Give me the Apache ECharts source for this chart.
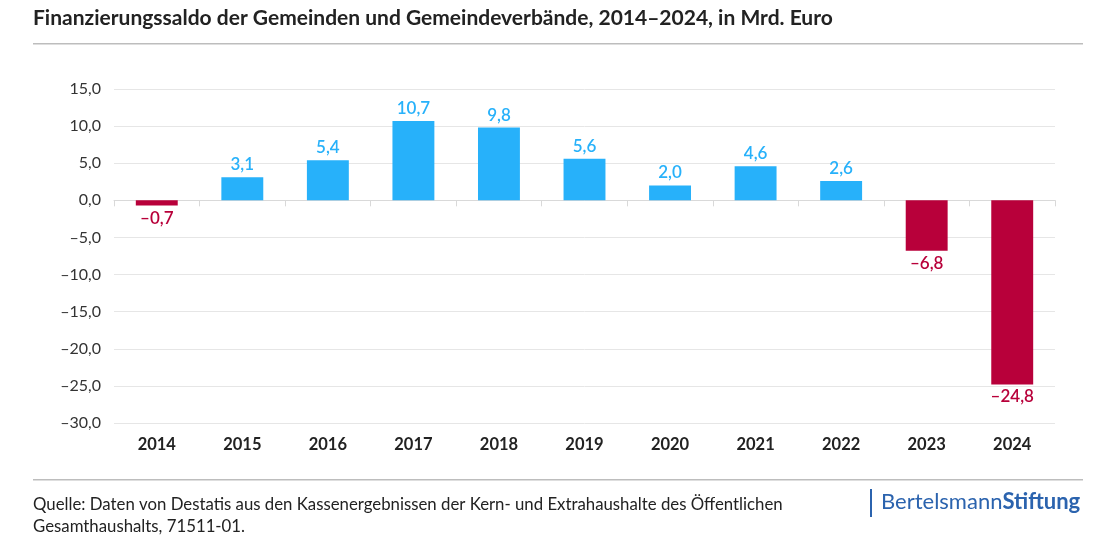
<!DOCTYPE html>
<html><head><meta charset="utf-8">
<script src="https://cdn.jsdelivr.net/npm/echarts@6/dist/echarts.min.js"></script>
<style>html,body{margin:0;padding:0;background:#fff}#c{width:1107px;height:546px}</style>
</head><body><div id="c"></div>
<script>
var categories = ['2014','2015','2016','2017','2018','2019','2020','2021','2022','2023','2024'];
var values = [-0.7, 3.1, 5.4, 10.7, 9.8, 5.6, 2.0, 4.6, 2.6, -6.8, -24.8];
var yTicks = {min: -30, max: 15, interval: 5};
var BLUE = '#27B1FA', RED = '#B8003A';
function fmt(v){ var s = Math.abs(v).toFixed(1).replace('.', ','); return (v < 0 ? '\u2013' : '') + s; }
var chart = echarts.init(document.getElementById('c'));
chart.setOption({
  animation: false,
  textStyle: {fontFamily: 'Lato'},
  grid: {left: 114, right: 52, top: 89, bottom: 123},
  xAxis: [{
    type: 'category', data: categories,
    axisLine: {onZero: true, lineStyle: {color: '#d9d9d9', width: 1}},
    axisTick: {show: true, inside: false, length: 6, lineStyle: {color: '#d9d9d9'}},
    axisLabel: {show: false}
  }, {
    type: 'category', data: categories, position: 'bottom',
    axisLine: {show: false}, axisTick: {show: false},
    axisLabel: {color: '#222', fontSize: 16.5, fontWeight: 'bold', margin: 13, fontFamily: 'Lato'}
  }],
  yAxis: {
    type: 'value', min: yTicks.min, max: yTicks.max, interval: yTicks.interval,
    axisLine: {show: false}, axisTick: {show: false},
    splitLine: {lineStyle: {color: '#e6e6e6', width: 1}},
    axisLabel: {color: '#333', fontSize: 16, margin: 13, formatter: fmt, fontFamily: 'Lato'}
  },
  series: [{
    type: 'bar', xAxisIndex: 0, barWidth: '49%',
    data: values.map(function(v){
      var c = v < 0 ? RED : BLUE;
      return {value: v, itemStyle: {color: c},
        label: {show: true, position: v < 0 ? 'bottom' : 'top', color: c, fontSize: 17, fontWeight: 600, distance: 4,
          formatter: function(p){ return fmt(p.value); }}};
    })
  }],
  graphic: [
    {type: 'text', left: 33, top: 8, style: {text: 'Finanzierungssaldo der Gemeinden und Gemeindeverbände, 2014\u20132024, in Mrd. Euro', font: 'bold 21px Lato', fill: '#222'}},
    {type: 'rect', shape: {x: 33, y: 43, width: 1050, height: 1.5}, style: {fill: '#bdbdbd'}},
    {type: 'rect', shape: {x: 33, y: 479, width: 1050, height: 1.5}, style: {fill: '#bdbdbd'}},
    {type: 'text', left: 33, top: 494, style: {text: 'Quelle: Daten von Destatis aus den Kassenergebnissen der Kern- und Extrahaushalte des Öffentlichen\nGesamthaushalts, 71511-01.', font: '16.8px Lato', fill: '#222', lineHeight: 22}},
    {type: 'rect', shape: {x: 870, y: 489, width: 2, height: 28}, style: {fill: '#2B63AE'}},
    {type: 'text', left: 881, top: 491, style: {rich: {a: {font: '22px Lato', fill: '#2B63AE'}, b: {font: 'bold 22px Lato', fill: '#2B63AE'}}, text: '{a|Bertelsmann}{b|Stiftung}'}}
  ]
});
</script></body></html>
